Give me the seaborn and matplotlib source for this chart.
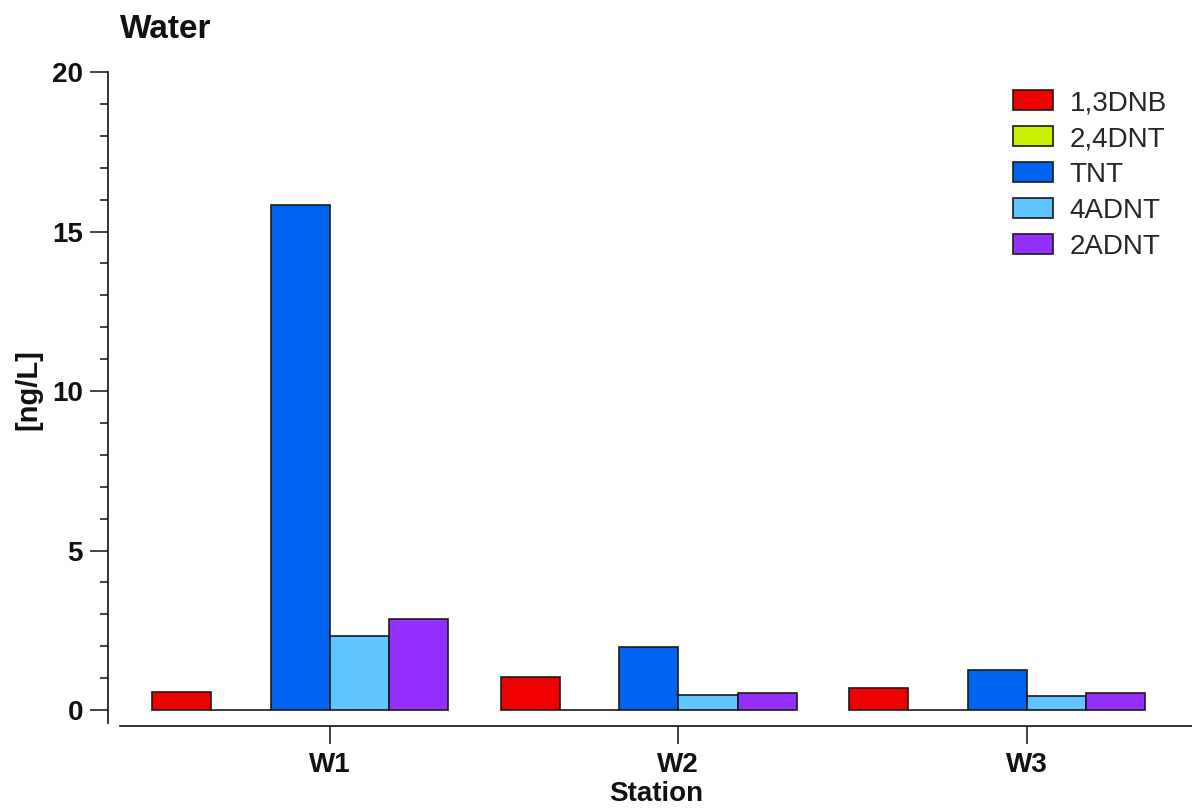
import numpy as np
import pandas as pd
import matplotlib
matplotlib.use("Agg")
import matplotlib.pyplot as plt
from matplotlib.ticker import MultipleLocator
import seaborn as sns

stations = ['W1', 'W2', 'W3']
compounds = ['1,3DNB', '2,4DNT', 'TNT', '4ADNT', '2ADNT']
dnb_13 = [0.56, 1.03, 0.68]
dnt_24 = [0.0, 0.0, 0.0]
tnt = [15.83, 1.98, 1.27]
adnt_4 = [2.32, 0.47, 0.44]
adnt_2 = [2.85, 0.55, 0.55]
colors = ['#f00000', '#c8f000', '#0064f0', '#5fc4ff', '#9430ff']

sns.set_style("ticks")
plt.rcParams['font.family'] = ['Liberation Sans', 'DejaVu Sans']

series = [dnb_13, dnt_24, tnt, adnt_4, adnt_2]
rows = []
for comp, vals in zip(compounds, series):
    for st, v in zip(stations, vals):
        rows.append({'Station': st, 'Compound': comp, 'value': v})
df = pd.DataFrame(rows)

W, H = 1192, 809
fig = plt.figure(figsize=(W / 100, H / 100), dpi=100)
ax = fig.add_axes([120 / W, 1 - 726 / H, 1 - 120 / W, (726 - 72) / H])

sns.barplot(data=df, x='Station', y='value', hue='Compound', hue_order=compounds,
            order=stations, palette=colors, width=0.85, gap=0, saturation=1,
            edgecolor='#1a1a1a', linewidth=1.2, errorbar=None, ax=ax)

ax.set_xlim(-0.517, 2.559)
ax.set_ylim(-0.5, 20)
ax.set_yticks([0, 5, 10, 15, 20])
ax.yaxis.set_minor_locator(MultipleLocator(1))
# tick sits on the right edge of the middle (TNT) bar, as in the original
bar_w = 0.85 / len(compounds)
ax.set_xticks([i + bar_w / 2 for i in range(len(stations))])
ax.set_xticklabels(stations)

sns.despine(ax=ax)
ax.spines['left'].set_position(('outward', 8.6))
ax.spines['left'].set_bounds(-0.4, 20)
for s in ['left', 'bottom']:
    ax.spines[s].set_linewidth(1.2)
    ax.spines[s].set_color('#111111')

ax.tick_params(axis='both', which='major', labelsize=20, length=13, width=1.1,
               color='#111111', labelcolor='#111111')
ax.tick_params(axis='y', which='minor', length=6, width=1.1, color='#111111')
ax.tick_params(axis='y', which='major', pad=5)
ax.tick_params(axis='x', which='major', pad=6)
for lbl in ax.get_xticklabels() + ax.get_yticklabels():
    lbl.set_fontweight('bold')

ax.set_ylabel('[ng/L]', fontsize=21, fontweight='bold', color='#111111')
ax.yaxis.set_label_coords(-0.072, 0.514)
ax.set_xlabel('Station', fontsize=20, fontweight='bold', color='#111111')
ax.xaxis.set_label_coords(0.5, -0.084)

fig.text(120 / W, 1 - 30 / H, 'Water', fontsize=24, fontweight='bold',
         ha='left', va='center', color='#111111')

ax.legend(loc='upper left', bbox_to_anchor=(1013 / W, 1 - 90 / H),
          bbox_transform=fig.transFigure, frameon=False, fontsize=20,
          handlelength=1.44, handleheight=0.72, handletextpad=0.6,
          labelspacing=0.36, borderpad=0, borderaxespad=0)

fig.savefig('out.png', dpi=100)
